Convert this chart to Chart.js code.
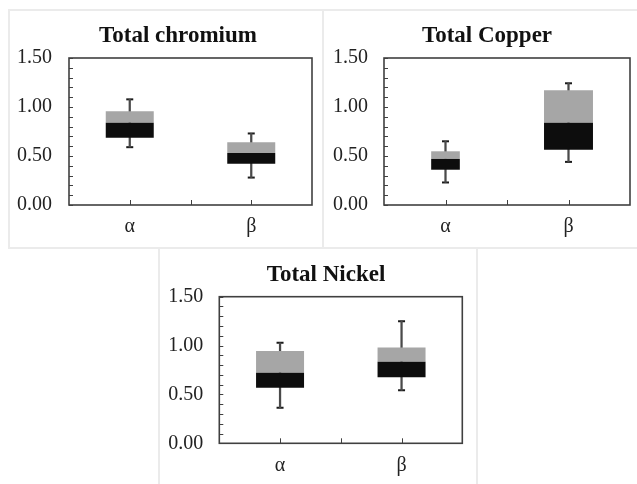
<!DOCTYPE html>
<html><head><meta charset="utf-8">
<script src="https://cdn.jsdelivr.net/npm/chart.js@4"></script>
<style>
html,body{margin:0;padding:0;background:#fff;}
body{width:637px;height:484px;position:relative;overflow:hidden;}
.frame{position:absolute;border:2px solid #ebebeb;box-sizing:border-box;}
canvas{position:absolute;}
</style></head><body>
<div class="frame" style="left:8px;top:9px;width:316px;height:240px"></div>
<div class="frame" style="left:322px;top:9px;width:330px;height:240px"></div>
<div class="frame" style="left:158px;top:247px;width:320px;height:250px"></div>
<canvas id="c1" width="314" height="238" style="left:9px;top:10px"></canvas>
<canvas id="c2" width="314" height="238" style="left:323px;top:10px"></canvas>
<canvas id="c3" width="318" height="236" style="left:159px;top:248px"></canvas>
<script>
// ---- data ----
const categories = ['α', 'β'];
const yLabelValues = [0, 0.5, 1.0, 1.5];

const chromiumMin = [0.59, 0.28];
const chromiumQ1  = [0.687, 0.42];
const chromiumMed = [0.84, 0.53];
const chromiumQ3  = [0.956, 0.64];
const chromiumMax = [1.078, 0.73];

const copperMin = [0.23, 0.44];
const copperQ1  = [0.36, 0.564];
const copperMed = [0.47, 0.84];
const copperQ3  = [0.548, 1.17];
const copperMax = [0.65, 1.242];

const nickelMin = [0.364, 0.542];
const nickelQ1  = [0.569, 0.675];
const nickelMed = [0.722, 0.834];
const nickelQ3  = [0.944, 0.98];
const nickelMax = [1.029, 1.25];

// ---- styles ----
const FONT = "'Liberation Serif','Times New Roman',serif";
const UPPER = '#a6a6a6', LOWER = '#0d0d0d', WHISK = '#4a4a4a', CAP = '#1a1a1a', AXIS = '#404040';

const framePlugin = {
  id: 'frame',
  afterDatasetsDraw(chart) {
    const {ctx, chartArea: a, scales: {x, y}} = chart;
    ctx.save();
    ctx.strokeStyle = AXIS;
    ctx.lineWidth = 1;
    ctx.beginPath();
    y.ticks.forEach(t => {
      const py = Math.round(y.getPixelForValue(t.value)) + 0.5;
      ctx.moveTo(a.left, py); ctx.lineTo(a.left + 4, py);
    });
    const n = x.ticks.length;
    for (let i = 0; i < n; i++) {
      const px = Math.round(x.getPixelForValue(i)) + 0.5;
      ctx.moveTo(px, a.bottom); ctx.lineTo(px, a.bottom - 5);
      if (i < n - 1) {
        const m = Math.round((x.getPixelForValue(i) + x.getPixelForValue(i + 1)) / 2) + 0.5;
        ctx.moveTo(m, a.bottom); ctx.lineTo(m, a.bottom - 5);
      }
    }
    ctx.stroke();
    ctx.lineWidth = 1.6;
    ctx.strokeRect(a.left, a.top, a.right - a.left, a.bottom - a.top);
    ctx.restore();
  }
};

function makeChart(id, title, mins, q1s, meds, q3s, maxs, L) {
  const datasets = [];
  categories.forEach((c, i) => {
    datasets.push({
      type: 'bar', data: categories.map((_, j) => j === i ? [q1s[j], meds[j]] : null),
      backgroundColor: LOWER, barPercentage: L.boxW[i], categoryPercentage: 1, grouped: false
    });
    datasets.push({
      type: 'bar', data: categories.map((_, j) => j === i ? [meds[j], q3s[j]] : null),
      backgroundColor: UPPER, barPercentage: L.boxW[i], categoryPercentage: 1, grouped: false
    });
  });
  datasets.push({
    type: 'bar', data: categories.map((_, j) => [mins[j], maxs[j]]),
    backgroundColor: WHISK, barThickness: 1.6, grouped: false
  });
  [maxs, mins].forEach(v => datasets.push({
    type: 'line', data: v, showLine: false, pointStyle: 'line', pointRadius: 3.5,
    borderColor: CAP, borderWidth: 2, pointBackgroundColor: CAP
  }));

  new Chart(document.getElementById(id), {
    type: 'bar',
    data: {labels: categories, datasets},
    options: {
      responsive: false, animation: false,
      layout: {padding: {left: L.padL, right: L.padR, top: 0, bottom: 0}},
      plugins: {
        legend: {display: false}, tooltip: {enabled: false},
        title: {display: true, text: title, color: '#111',
          font: {family: FONT, size: 23, weight: 'bold'},
          padding: {top: L.tTop, bottom: L.tBot}}
      },
      scales: {
        x: {type: 'category', offset: true,
          afterFit(s) { s.height = L.xH; },
          grid: {display: false, drawTicks: false}, border: {display: false},
          ticks: {padding: 10, color: '#222', font: {family: FONT, size: 20}}},
        y: {min: 0, max: 1.5,
          afterFit(s) { s.width = L.yW; },
          grid: {display: false, drawTicks: false}, border: {display: false},
          ticks: {stepSize: 0.1, autoSkip: false, mirror: true, padding: L.yPad, color: '#222',
            font: {family: FONT, size: 20},
            callback: v => yLabelValues.some(t => Math.abs(t - v) < 1e-6) ? Number(v).toFixed(2) : ''}}
      }
    },
    plugins: [framePlugin]
  });
}

makeChart('c1', 'Total chromium', chromiumMin, chromiumQ1, chromiumMed, chromiumQ3, chromiumMax,
  {padL: 35, padR: 11, tTop: 12, tBot: 8.4, yW: 25, yPad: -52, xH: 43, boxW: [0.395, 0.395]});
makeChart('c2', 'Total Copper', copperMin, copperQ1, copperMed, copperQ3, copperMax,
  {padL: 21, padR: 7, tTop: 12, tBot: 8.4, yW: 40, yPad: -51, xH: 43, boxW: [0.233, 0.398]});
makeChart('c3', 'Total Nickel', nickelMin, nickelQ1, nickelMed, nickelQ3, nickelMax,
  {padL: 30.7, padR: 14.7, tTop: 13, tBot: 8.1, yW: 29.6, yPad: -51, xH: 40.7, boxW: [0.395, 0.395]});
</script>
</body></html>
